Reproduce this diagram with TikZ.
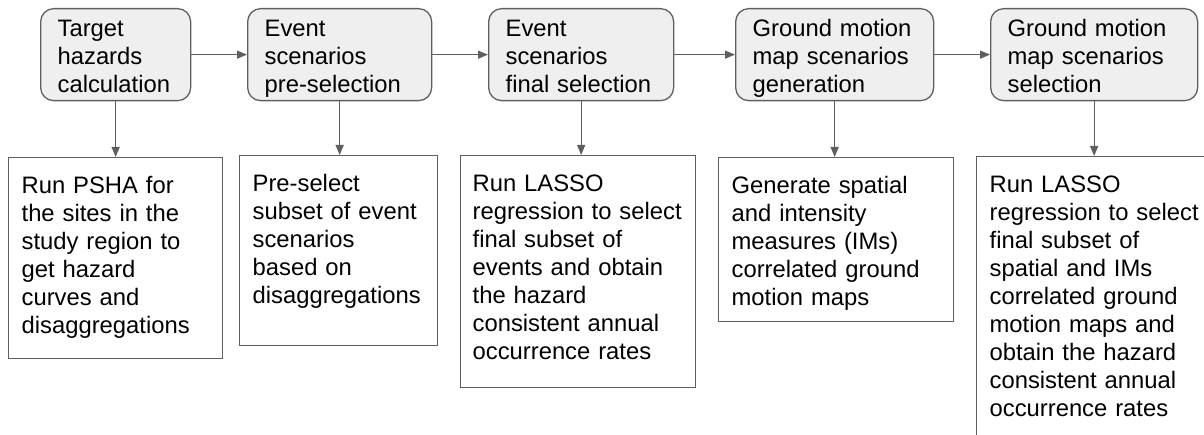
\documentclass[tikz,border=0pt]{standalone}
\usepackage{fontspec}
\setmainfont{Liberation Sans}
\usetikzlibrary{arrows.meta}

\hyphenpenalty=10000

\definecolor{linegray}{RGB}{95,95,95}
\definecolor{boxfill}{RGB}{239,239,239}

\tikzset{
  stagebox/.style={draw=linegray, fill=boxfill, line width=1.3pt, rounded corners=13pt,
    anchor=north west, align=left, inner xsep=17pt, inner ysep=0pt,
    text height=28pt, text depth=64pt},
  descbox/.style={draw=linegray, line width=1.3pt, anchor=north west, align=left,
    inner xsep=13pt, inner ysep=0pt, text height=36pt},
  flow/.style={draw=linegray, line width=1.3pt, -{Triangle[length=10pt,width=8pt]}}
}

\begin{document}
\begin{tikzpicture}[font=\fontsize{23.8}{28}\selectfont, x=1pt, y=-1pt]

\useasboundingbox (0,0) rectangle (1204,435);
\clip (0,0) rectangle (1204,435);

% stages
\node[stagebox, text width=116pt] (haz) at (40,8) {Target\\hazards\\calculation};
\node[stagebox, text width=150pt] (pre) at (247,8) {Event\\scenarios\\pre-selection};
\node[stagebox, text width=151pt] (fin) at (488,8) {Event\\scenarios\\final selection};
\node[stagebox, text width=164pt] (gen) at (735,8) {Ground motion\\map scenarios\\generation};
\node[stagebox, text width=173pt] (sel) at (990,8) {Ground motion\\map scenarios\\selection};

% descriptions
\node[descbox, text width=188pt, text depth=165pt] (dhaz) at (8,157)
  {Run PSHA for\\the sites in the\\study region to\\get hazard\\curves and\\disaggregations};
\node[descbox, text width=172pt, text depth=154pt] (dpre) at (239,155)
  {Pre-select\\subset of event\\scenarios\\based on\\disaggregations};
\node[descbox, inner xsep=12pt, text width=211pt, text depth=196pt] (dfin) at (460,155)
  {Run LASSO\\regression to select\\final subset of\\events and obtain\\the hazard\\consistent annual\\occurrence rates};
\node[descbox, text width=209pt, text depth=128pt] (dgen) at (718,157)
  {Generate spatial\\and intensity\\measures (IMs)\\correlated ground\\motion maps};
\node[descbox, text width=220pt, text depth=300pt] (dsel) at (976,156)
  {Run LASSO\\regression to select\\final subset of\\spatial and IMs\\correlated ground\\motion maps and\\obtain the hazard\\consistent annual\\occurrence rates};

\foreach \a/\b in {haz/pre, pre/fin, fin/gen, gen/sel}{
\draw[flow] (\a) -- (\b);
}
\foreach \s in {haz, pre, fin, gen, sel}{
\draw[flow] (\s.south) -- (\s.south |- d\s.north);
}
\end{tikzpicture}
\end{document}
